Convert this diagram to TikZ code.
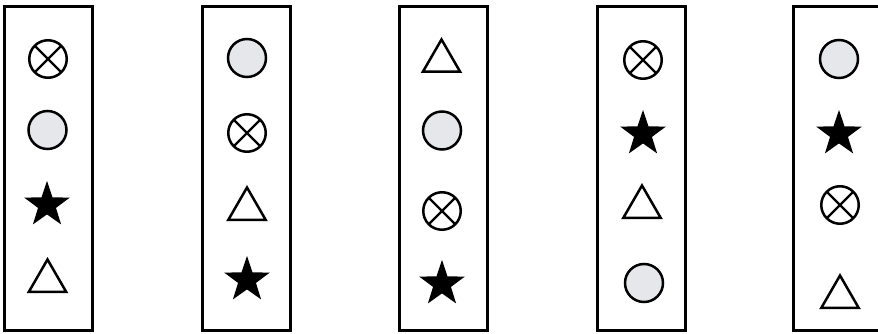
\documentclass[tikz,border=0pt]{standalone}
\usetikzlibrary{shapes.geometric}
\definecolor{symgray}{RGB}{230,231,235}
\tikzset{
  panel/.style={draw=black, line width=3pt, fill=white, minimum width=88pt, minimum height=323pt, inner sep=0pt},
  dot/.style={circle, draw=black, line width=2.5pt, fill=symgray, minimum size=38pt, inner sep=0pt},
  cross/.style={circle, draw=black, line width=2.5pt, fill=white, minimum size=37.5pt, inner sep=0pt,
     path picture={\draw[line width=2.4pt] (path picture bounding box.north west) -- (path picture bounding box.south east)
       (path picture bounding box.north east) -- (path picture bounding box.south west);}},
  starsym/.style={star, star points=5, star point ratio=2.55, fill=black, draw=none, minimum size=48pt, inner sep=0pt},
  tri/.style={regular polygon, regular polygon sides=3, draw=black, line width=2.5pt, fill=white, minimum size=43pt, inner sep=0pt}
}
\begin{document}
\begin{tikzpicture}[x=1pt,y=-1pt]
\useasboundingbox[fill=white] (0,0) rectangle (878,334);
% panels
\node[panel] (p1) at (48,168.5) {};
\node[panel] (p2) at (246.5,168.5) {};
\node[panel] (p3) at (443,168.5) {};
\node[panel] (p4) at (641.5,168.5) {};
\node[panel] (p5) at (837,168.5) {};
% panel 1
\node[cross] (a1) at (48,59) {};
\node[dot] (a2) at (47.5,130) {};
\node[starsym] (a3) at (47,205) {};
\node[tri] (a4) at (47.5,281) {};
% panel 2
\node[dot] (b1) at (247,58) {};
\node[cross] (b2) at (247,133) {};
\node[tri] (b3) at (247,209) {};
\node[starsym] (b4) at (247,280) {};
% panel 3
\node[tri] (c1) at (441.5,61) {};
\node[dot] (c2) at (442,130.5) {};
\node[cross] (c3) at (442,211) {};
\node[starsym] (c4) at (442,284) {};
% panel 4
\node[cross] (d1) at (643,60) {};
\node[starsym] (d2) at (643,134) {};
\node[tri] (d3) at (642,207) {};
\node[dot] (d4) at (644,283) {};
% panel 5
\node[dot] (e1) at (839,59) {};
\node[starsym] (e2) at (839,134) {};
\node[cross] (e3) at (840,205) {};
\node[tri] (e4) at (840,297) {};
\end{tikzpicture}
\end{document}
